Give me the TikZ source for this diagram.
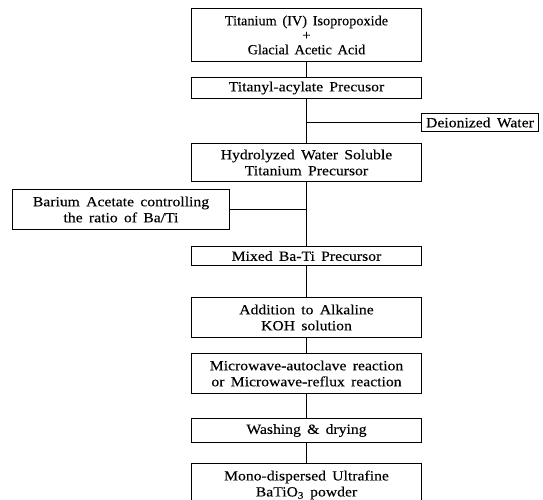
\documentclass[tikz,border=0pt]{standalone}
\usepackage{fontspec}
\setmainfont[FakeStretch=1.12,WordSpace=1.6,FakeBold=0.2]{Liberation Serif}
\newfontfamily\topfam[FakeStretch=1.02,WordSpace=1.6,FakeBold=0.2]{Liberation Serif}
\begin{document}
\begin{tikzpicture}[x=1pt,y=-1pt,
  box/.style={draw=black,line width=1.3pt,align=center,inner sep=0pt,
    font=\fontsize{14}{16}\selectfont},
  link/.style={draw=black,line width=1pt}]
\clip (0,0) rectangle (543,500);
\node[box,minimum width=230pt,minimum height=53pt,
  font=\topfam\fontsize{14}{14.5}\selectfont] (b1) at (306.5,35)
  {Titanium (IV) Isopropoxide\\+\\Glacial Acetic Acid};
\node[box,minimum width=230pt,minimum height=21pt] (b2) at (306.5,88)
  {Titanyl-acylate Precusor};
\node[box,minimum width=117pt,minimum height=18pt] (dw) at (480,122.5)
  {Deionized Water};
\node[box,minimum width=230pt,minimum height=38pt] (b3) at (306.5,162.5)
  {Hydrolyzed Water Soluble\\Titanium Precursor};
\node[box,minimum width=217pt,minimum height=40pt] (ba) at (121,209.5)
  {Barium Acetate controlling\\the ratio of Ba/Ti};
\node[box,minimum width=230pt,minimum height=19pt] (b4) at (306.5,256)
  {Mixed Ba-Ti Precursor};
\node[box,minimum width=230pt,minimum height=40pt] (b5) at (306.5,317.5)
  {Addition to Alkaline\\KOH solution};
\node[box,minimum width=230pt,minimum height=40pt] (b6) at (306.5,373.5)
  {Microwave-autoclave reaction\\or Microwave-reflux reaction};
\node[box,minimum width=230pt,minimum height=24pt] (b7) at (306.5,430.5)
  {Washing \& drying};
\node[box,minimum width=230pt,minimum height=43pt] (b8) at (306.5,485)
  {Mono-dispersed Ultrafine\\BaTiO\textsubscript{3} powder};
\path[link] (b1.south) -- (b2.north);
\path[link] (b2.south) -- (b3.north);
\path[link] (dw.west) -- (dw.west -| b2.south);
\path[link] (b3.south) -- (b4.north);
\path[link] (ba.east) -- (ba.east -| b3.south);
\path[link] (b4.south) -- (b5.north);
\path[link] (b5.south) -- (b6.north);
\path[link] (b6.south) -- (b7.north);
\path[link] (b7.south) -- (b8.north);
\end{tikzpicture}
\end{document}
